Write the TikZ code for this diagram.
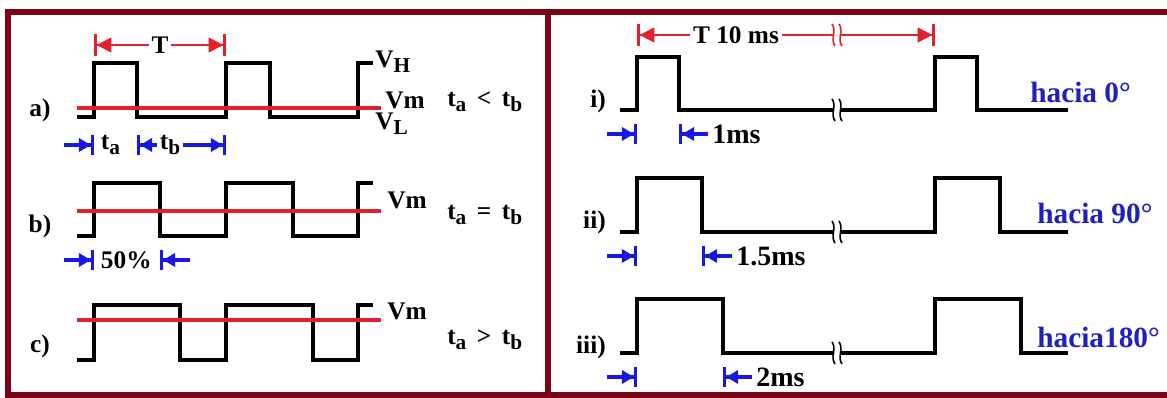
\documentclass[tikz,border=0pt]{standalone}
\usepackage{fontspec}
\setmainfont{Liberation Serif}
\usetikzlibrary{arrows.meta}
\definecolor{framered}{RGB}{122,4,22}
\definecolor{vred}{RGB}{228,32,44}
\definecolor{vblue}{RGB}{24,24,225}
\definecolor{tblue}{RGB}{32,32,190}
\newcommand{\sbs}[1]{\raisebox{-0.45ex}{\fontsize{16}{16}\selectfont #1}}

\begin{document}
\begin{tikzpicture}[x=0.75pt,y=-0.75pt,
  sig/.style={line width=2.5pt},
  vline/.style={vred, line width=3pt},
  tarr/.style={vred, line width=1.7pt, -{Triangle[length=11pt,width=11pt]Bar[width=16pt,line width=2pt]}},
  barr/.style={vblue, line width=2.4pt, -{Triangle[length=9pt,width=10pt]Bar[width=15pt,line width=2.4pt]}},
  lbl/.style={font=\fontsize{19}{21}\selectfont\bfseries, inner sep=0pt},
  dim/.style={lbl, font=\fontsize{19}{21}\selectfont\bfseries, inner sep=2pt},
  ms/.style={lbl, font=\fontsize{21}{24}\selectfont\bfseries},
  hacia/.style={lbl, font=\fontsize{22}{24}\selectfont\bfseries, text=tblue},
  brk/.pic={
    \fill[white] (-6,-4) rectangle (2,4);
    \draw[line width=1.2pt] (-7,-11) .. controls (-2,-4) and (-9,4) .. (-4,11);
    \draw[line width=1.2pt] (0,-11) .. controls (5,-4) and (-2,4) .. (3,11);
  }
]
\useasboundingbox (0,0) rectangle (1167,398);
\clip (0,0) rectangle (1167,398);
\draw[framered, line width=4.5pt] (8,12) rectangle (1190,395);
\draw[framered, line width=4.5pt] (548,12) -- (548,395);

% left panel
\node[lbl] (la) at (40,110) {a)};
\node[lbl] (lb) at (40,226) {b)};
\node[lbl] (lc) at (40,346) {c)};

\node[dim] (T) at (160,45) {T};
\coordinate (T0) at (94,45);
\coordinate (T1) at (226,45);
\draw[tarr] (T) -- (T0);
\draw[tarr] (T) -- (T1);

\draw[sig] (77,117) -- (94,117) -- (94,63) -- (137,63) -- (137,117) -- (226,117) -- (226,63) -- (270,63) -- (270,117) -- (358,117) -- (358,63) -- (373,63);
\draw[vline] (77,108) -- (381,108);
\node[lbl, anchor=west] (vh) at (375,62) {V\sbs{H}};
\node[lbl, anchor=west] (vma) at (385,100) {Vm};
\node[lbl, anchor=west] (vl) at (375,124) {V\sbs{L}};
\node[lbl, anchor=west] (ra) at (447,102) {t\sbs{a} \,<\, t\sbs{b}};

\coordinate (a0s) at (64,145);
\coordinate (a0) at (94,145);
\coordinate (a1) at (137,145);
\coordinate (a2) at (226,145);
\draw[barr] (a0s) -- (a0);
\node[dim, anchor=west] (ta) at (98,145) {t\sbs{a}};
\node[dim] (tb) at (170,145) {t\sbs{b}};
\draw[barr] (tb) -- (a1);
\draw[barr] (tb) -- (a2);

\draw[sig] (77,236) -- (94,236) -- (94,183) -- (160,183) -- (160,236) -- (226,236) -- (226,183) -- (293,183) -- (293,236) -- (358,236) -- (358,183) -- (373,183);
\draw[vline] (77,211) -- (381,211);
\node[lbl, anchor=west] (vmb) at (387,200) {Vm};
\node[lbl, anchor=west] (rb) at (447,215) {t\sbs{a} \,=\, t\sbs{b}};

\coordinate (b0s) at (64,260);
\coordinate (b0) at (94,260);
\coordinate (b1s) at (190,260);
\coordinate (b1) at (160,260);
\draw[barr] (b0s) -- (b0);
\draw[barr] (b1s) -- (b1);
\node[dim, anchor=west] (p50) at (98,260) {50\%};

\draw[sig] (77,360) -- (94,360) -- (94,305) -- (180,305) -- (180,360) -- (226,360) -- (226,305) -- (313,305) -- (313,360) -- (358,360) -- (358,305) -- (373,305);
\draw[vline] (77,320) -- (381,320);
\node[lbl, anchor=west] (vmc) at (387,311) {Vm};
\node[lbl, anchor=west] (rc) at (447,340) {t\sbs{a} \,>\, t\sbs{b}};

% right panel
\node[dim] (T10) at (736,35) {T 10 ms};
\coordinate (Ti0) at (637,35);
\coordinate (Ti1) at (935,35);
\draw[tarr] (T10) -- (Ti0);
\draw[tarr] (T10) -- (Ti1);
\pic[vred] at (839,35) {brk};

\node[lbl, anchor=east] (li) at (606,101) {i)};
\draw[sig] (620,110) -- (637,110) -- (637,57) -- (679,57) -- (679,110) -- (935,110) -- (935,57) -- (977,57) -- (977,110) -- (1068,110);
\pic at (839,110) {brk};
\coordinate (i0s) at (607,134);
\coordinate (i0) at (637,134);
\coordinate (i1s) at (708,134);
\coordinate (i1) at (679,134);
\draw[barr] (i0s) -- (i0);
\draw[barr] (i1s) -- (i1);
\node[ms, anchor=west] (m1) at (712,134) {1ms};
\node[hacia, anchor=west] (h0) at (1030,92) {hacia 0°};

\node[lbl, anchor=east] (lii) at (606,222) {ii)};
\draw[sig] (620,232) -- (637,232) -- (637,178) -- (702,178) -- (702,232) -- (935,232) -- (935,178) -- (1000,178) -- (1000,232) -- (1068,232);
\pic at (839,232) {brk};
\coordinate (ii0s) at (607,256);
\coordinate (ii0) at (637,256);
\coordinate (ii1s) at (732,256);
\coordinate (ii1) at (702,256);
\draw[barr] (ii0s) -- (ii0);
\draw[barr] (ii1s) -- (ii1);
\node[ms, anchor=west] (m15) at (736,256) {1.5ms};
\node[hacia, anchor=west] (h90) at (1037,213) {hacia 90°};

\node[lbl, anchor=east] (liii) at (606,347) {iii)};
\draw[sig] (620,353) -- (637,353) -- (637,299) -- (723,299) -- (723,353) -- (935,353) -- (935,299) -- (1021,299) -- (1021,353) -- (1068,353);
\pic at (839,353) {brk};
\coordinate (iii0s) at (607,377);
\coordinate (iii0) at (637,377);
\coordinate (iii1s) at (752,377);
\coordinate (iii1) at (723,377);
\draw[barr] (iii0s) -- (iii0);
\draw[barr] (iii1s) -- (iii1);
\node[ms, anchor=west] (m2) at (756,377) {2ms};
\node[hacia, anchor=west] (h180) at (1037,337) {hacia180°};
\end{tikzpicture}
\end{document}
